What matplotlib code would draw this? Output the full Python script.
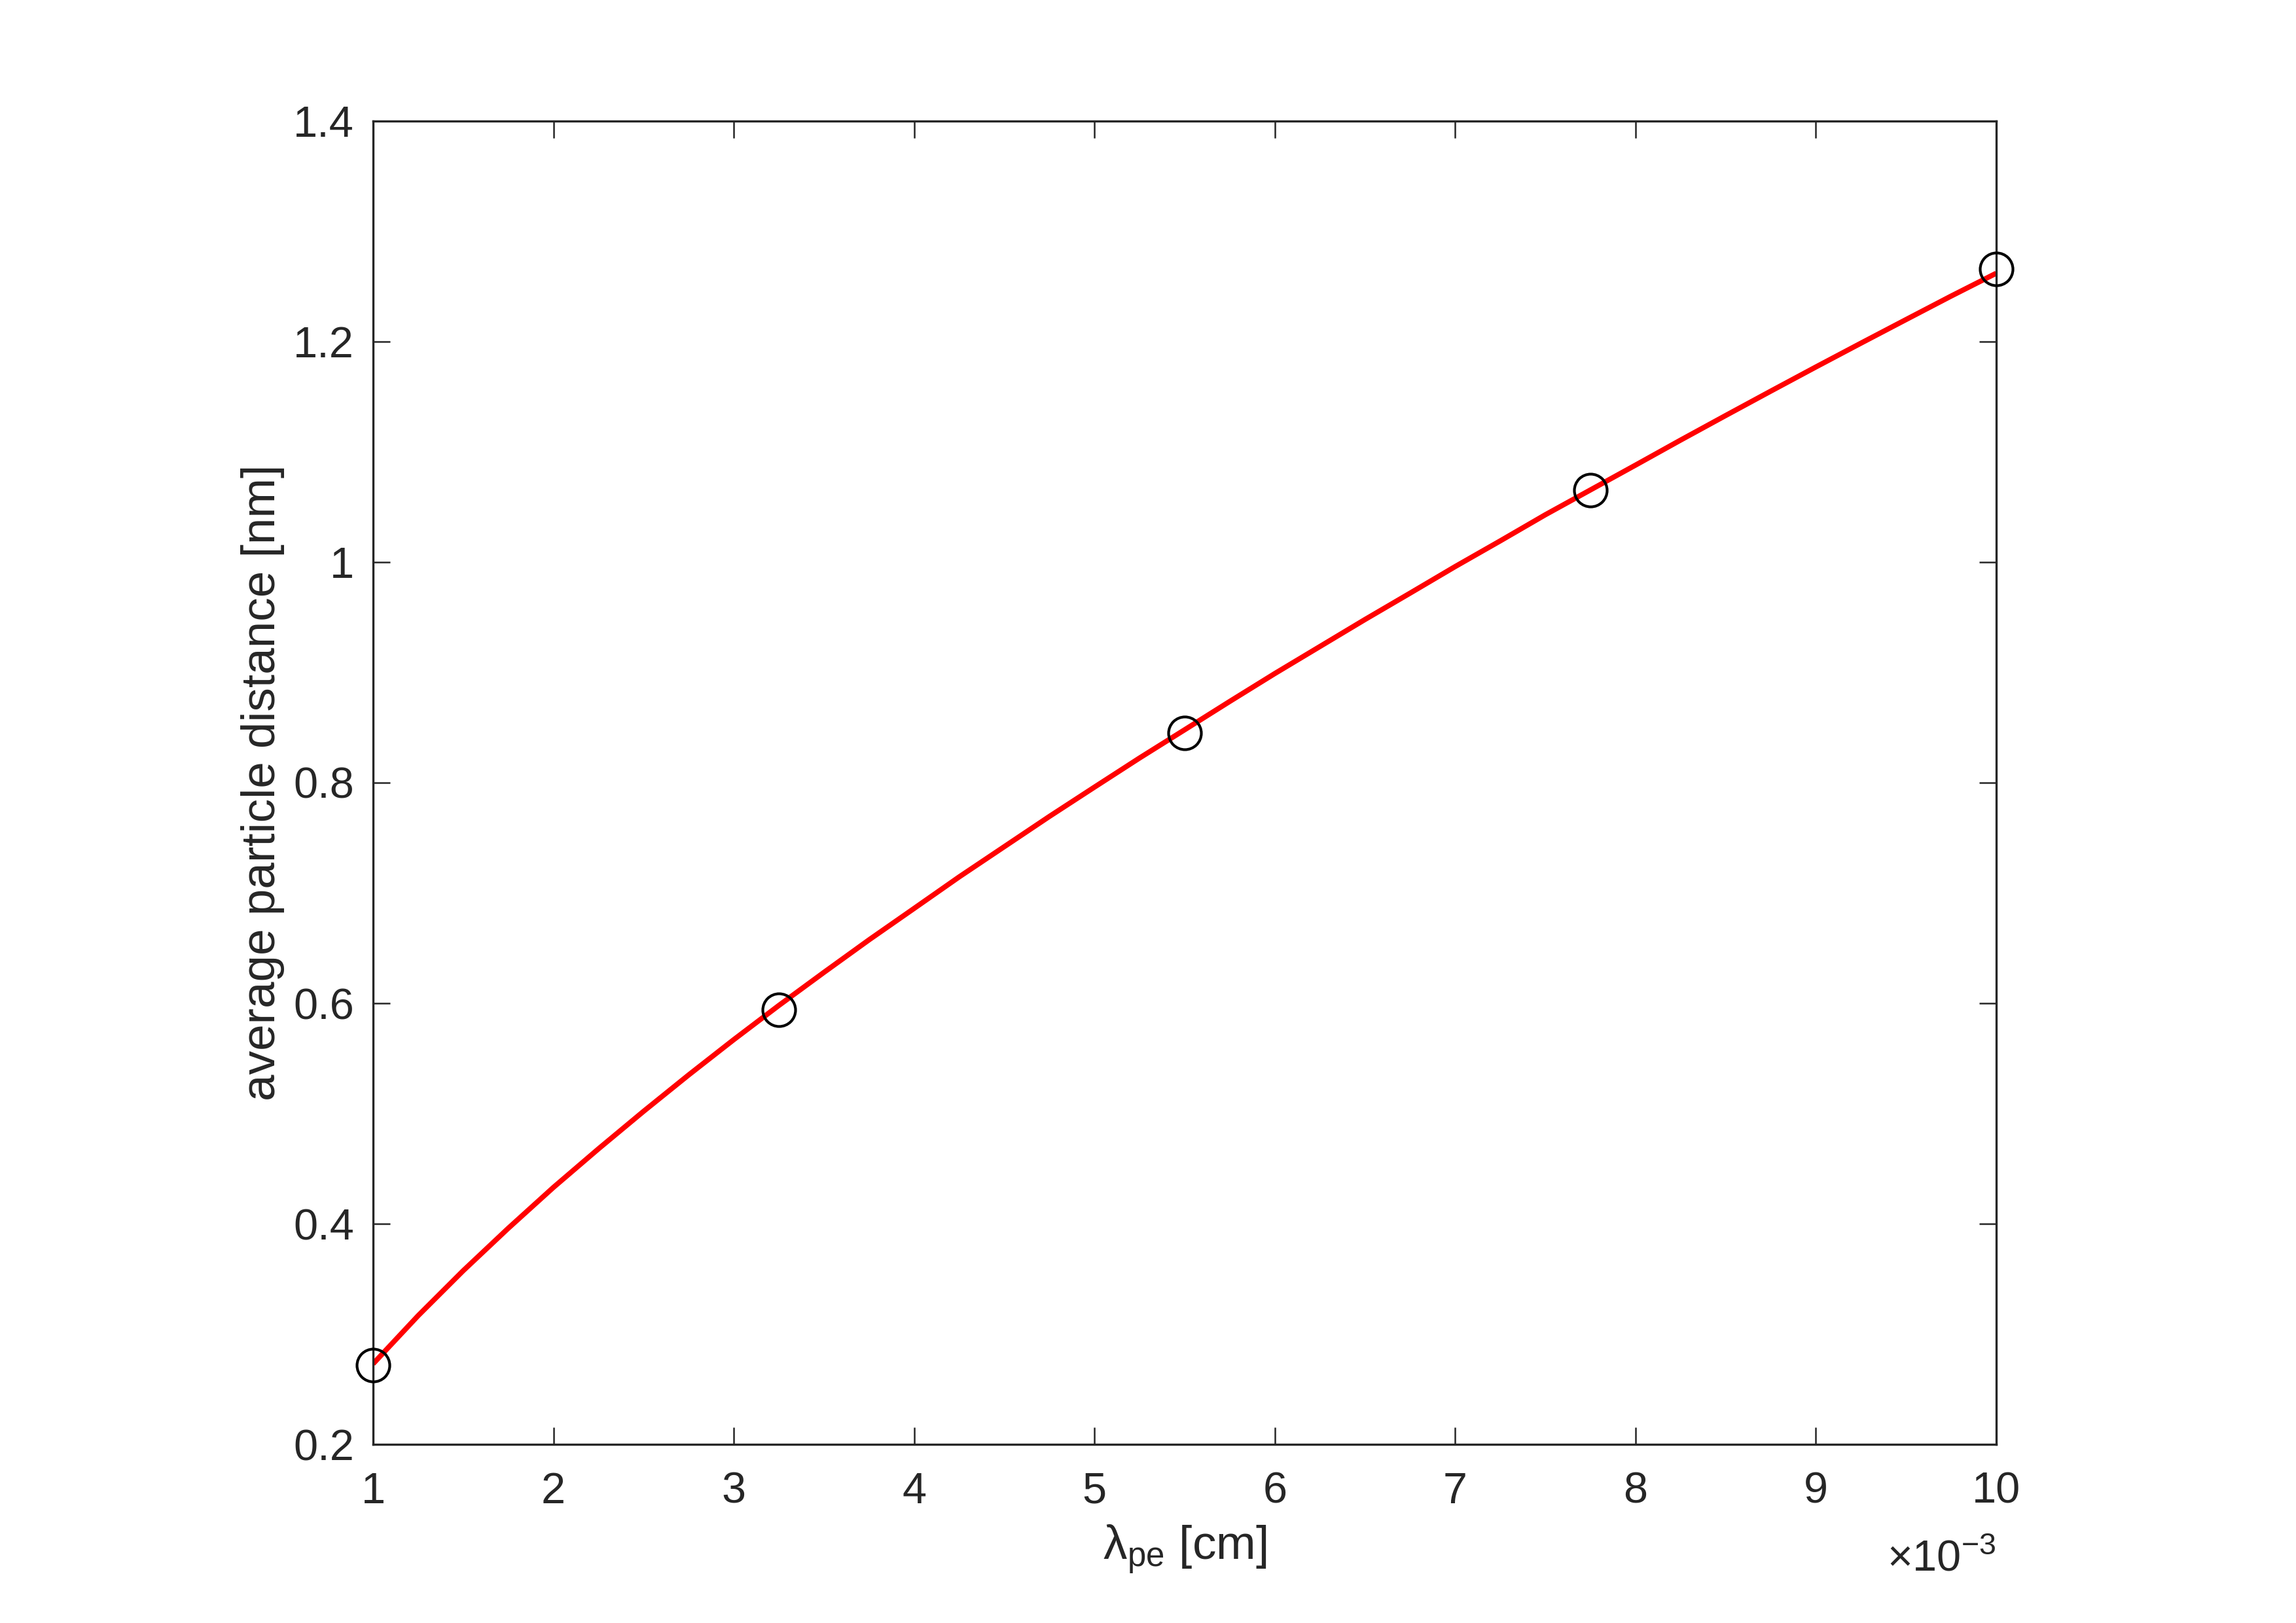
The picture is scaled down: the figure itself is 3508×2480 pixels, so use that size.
import matplotlib
matplotlib.use("Agg")
import matplotlib.pyplot as plt

# data (x in units of 1e-3 cm)
x_points = [1.0, 3.25, 5.5, 7.75, 10.0]
y_points = [0.272, 0.594, 0.845, 1.065, 1.266]

# fitted curve, values
x_curve = [1.0, 1.25, 1.5, 1.75, 2.0, 2.25, 2.5, 2.75, 3.0, 3.25, 3.5, 3.75,
           4.0, 4.25, 4.5, 4.75, 5.0, 5.25, 5.5, 5.75, 6.0, 6.25, 6.5, 6.75,
           7.0, 7.25, 7.5, 7.75, 8.0, 8.25, 8.5, 8.75, 9.0, 9.25, 9.5, 9.75, 10.0]
y_curve = [0.273, 0.3167, 0.3575, 0.396, 0.433, 0.468, 0.502, 0.535, 0.567,
           0.598, 0.628, 0.6575, 0.686, 0.7146, 0.742, 0.7694, 0.796, 0.8224,
           0.848, 0.8737, 0.899, 0.9235, 0.948, 0.9719, 0.996, 1.0193, 1.043,
           1.0655, 1.088, 1.1107, 1.133, 1.1551, 1.177, 1.1986, 1.220, 1.2413, 1.262]

x_ticks = [1, 2, 3, 4, 5, 6, 7, 8, 9, 10]
x_ticklabels = ["1", "2", "3", "4", "5", "6", "7", "8", "9", "10"]
y_ticks = [0.2, 0.4, 0.6, 0.8, 1.0, 1.2, 1.4]
y_ticklabels = ["0.2", "0.4", "0.6", "0.8", "1", "1.2", "1.4"]

plt.rcParams['font.family'] = ['Liberation Sans', 'DejaVu Sans']
plt.rcParams['mathtext.fontset'] = 'custom'
plt.rcParams['mathtext.rm'] = 'Liberation Sans'
plt.rcParams['mathtext.it'] = 'Liberation Sans:italic'
plt.rcParams['mathtext.sf'] = 'Liberation Sans'

axc = '#262626'
fig = plt.figure(figsize=(3508/300, 2480/300), dpi=300)
ax = fig.add_axes([570/3508, 1 - 2207/2480, (3050-570)/3508, (2207-185)/2480])

ax.plot(x_curve, y_curve, color='#ff0000', lw=1.9, solid_capstyle='butt',
        solid_joinstyle='round', zorder=2)
ax.plot(x_points, y_points, linestyle='none', marker='o', markersize=12,
        markerfacecolor='none', markeredgecolor='black', markeredgewidth=1.0,
        zorder=3, clip_on=False)

ax.set_xlim(1, 10)
ax.set_ylim(0.2, 1.4)
ax.set_xticks(x_ticks)
ax.set_xticklabels(x_ticklabels)
ax.set_yticks(y_ticks)
ax.set_yticklabels(y_ticklabels)

for s in ax.spines.values():
    s.set_color(axc)
    s.set_linewidth(0.8)
ax.tick_params(direction='in', length=6.2, width=0.6, colors=axc,
               labelsize=16, top=True, right=True)
ax.tick_params(axis='x', pad=10)
ax.tick_params(axis='y', pad=7)
for lab in ax.get_xticklabels() + ax.get_yticklabels():
    lab.set_color(axc)

ax.set_xlabel('λ$_{\\mathrm{pe}}$ [cm]', fontsize=17.5, color=axc, labelpad=4)
ax.set_ylabel('average particle distance [nm]', fontsize=17.5, color=axc, labelpad=3)

ax.text(1.0, -0.072, r'$\times10^{-3}$', transform=ax.transAxes, ha='right',
        va='top', fontsize=16, color=axc)

fig.savefig('out.png', dpi=300, facecolor='white')
